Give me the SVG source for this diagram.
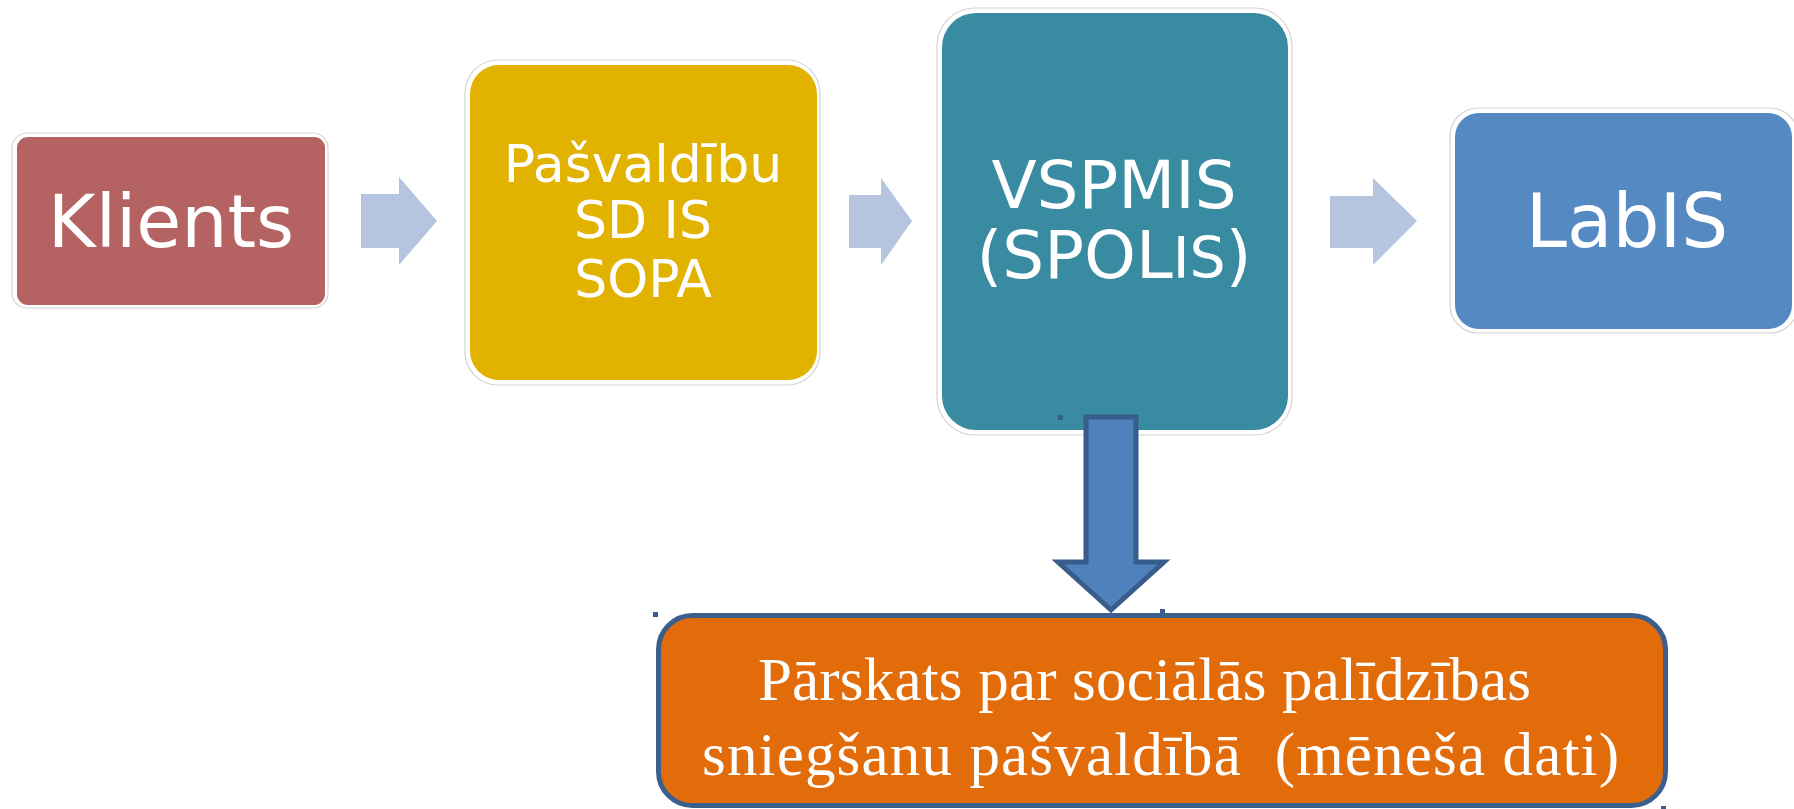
<svg xmlns="http://www.w3.org/2000/svg" width="1794" height="809" viewBox="0 0 1794 809">
<style>
.rim{fill:#ffffff;stroke:#d4d4d4;stroke-width:1.2}
.top{font-family:"DejaVu Sans","Verdana",sans-serif;fill:#ffffff;text-anchor:middle}
.flow{fill:#b5c4df}
.down{fill:#4f81bd;stroke:#385d8a;stroke-width:5;stroke-linejoin:miter}
.mark{fill:#385d8a}
.rep{font-family:"Liberation Serif","Times New Roman",serif;fill:#ffffff;font-size:61px;white-space:pre}
</style>
<rect width="1794" height="809" fill="#ffffff"/>
<g id="klients">
<rect class="rim" x="12" y="133" width="316" height="175" rx="15"/>
<rect x="17" y="137" width="308" height="168" rx="11" fill="#b46262"/>
<text class="top" x="171" y="247" font-size="73">Klients</text>
</g>
<g id="pasvaldibu">
<rect class="rim" x="465" y="60" width="355" height="325" rx="33"/>
<rect x="470" y="65" width="347" height="315" rx="29" fill="#e2b200"/>
<text class="top" font-size="52"><tspan x="643" y="182">Pašvaldību</tspan><tspan x="643" y="238">SD IS</tspan><tspan x="643" y="297">SOPA</tspan></text>
</g>
<g id="vspmis">
<rect class="rim" x="937" y="8" width="355" height="427" rx="38"/>
<rect x="942" y="13" width="346" height="417" rx="34" fill="#388ba0"/>
<text class="top" font-size="66"><tspan x="1114" y="208">VSPMIS</tspan><tspan x="1114" y="278">(SPOL<tspan font-size="57">IS</tspan>)</tspan></text>
</g>
<g id="labis">
<rect class="rim" x="1450" y="108" width="348" height="225" rx="28"/>
<rect x="1455" y="113" width="337" height="216" rx="24" fill="#5589c2"/>
<text class="top" x="1627" y="247" font-size="74">LabIS</text>
</g>
<g id="parskats">
<rect x="658.5" y="615.5" width="1007" height="190" rx="34" fill="#e36c0a" stroke="#3a5f8f" stroke-width="5"/>
<text class="rep" x="758" y="700" textLength="773" lengthAdjust="spacing">Pārskats par sociālās palīdzības</text>
<text class="rep" x="702" y="775" textLength="917" lengthAdjust="spacing">sniegšanu pašvaldībā  (mēneša dati)</text>
</g>
<g id="connectors">
<polygon class="flow" points="361,194 399,194 399,177 437,221 399,265 399,248 361,248"/>
<polygon class="flow" points="849,195 881,195 881,178 912,221 881,265 881,248 849,248"/>
<polygon class="flow" points="1330,196 1373,196 1373,178 1417,221 1373,265 1373,248 1330,248"/>
<polygon class="down" points="1086,417 1136,417 1136,562 1164,562 1111,610 1058,562 1086,562"/>
</g>
<g id="marks">
<rect class="mark" x="1058" y="415" width="5" height="5"/>
<rect class="mark" x="653" y="612" width="5" height="5"/>
<rect class="mark" x="1160" y="609" width="5" height="4"/>
<rect class="mark" x="1661" y="806" width="5" height="3"/>
</g>
</svg>
